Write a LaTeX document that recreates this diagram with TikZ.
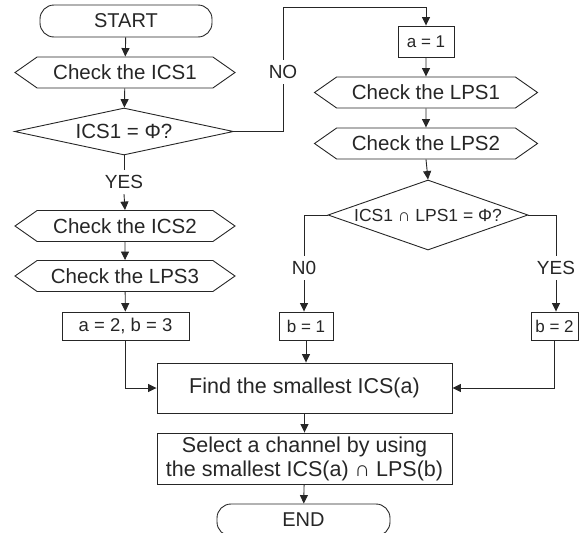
\documentclass[tikz,border=0pt]{standalone}
\usepackage{fontspec}
\setmainfont{Liberation Sans}
\usetikzlibrary{shapes.geometric,shapes.symbols,arrows.meta}
\newcommand\fsz[2]{\fontsize{#1pt}{#2pt}\selectfont}
\begin{document}
\begin{tikzpicture}[x=1pt,y=-1pt, line width=0.9pt, color=black!85,
  arr/.style={-{Triangle[length=8.5pt,width=8pt]}},
  term/.style={draw, rectangle, rounded corners=14pt, minimum width=172, minimum height=32, inner sep=0pt, font=\fsz{20}{23}},
  hexa/.style={draw, shape=signal, signal to=west and east, signal pointer angle=70, minimum width=220, minimum height=31, inner sep=0pt, font=\fsz{20.5}{24}},
  pbox/.style={draw, rectangle, inner sep=0pt},
  dia/.style={draw, diamond, inner sep=0pt},
  lbl/.style={inner sep=5pt, font=\fsz{19}{22}}]
\clip (0,0) rectangle (584,533);
% left column
\node[term] (start) at (126,21) {START};
\node[hexa] (c1) at (125,72.5) {Check the ICS1};
\node[dia, minimum width=219, minimum height=47, label={[font=\fsz{20.5}{24}]center:ICS1 = Φ?}] (d1) at (124,131.5) {};
\node[lbl] (yes1) at (124,182) {YES};
\node[hexa] (c2) at (125,226) {Check the ICS2};
\node[hexa] (c3) at (125,276) {Check the LPS3};
\node[pbox, minimum width=127, minimum height=28, font=\fsz{18.5}{22}] (ab) at (125.5,326) {a = 2, b = 3};
% NO branch
\node[lbl] (no) at (283,72) {NO};
\coordinate (top) at (283,7);
% right column
\node[pbox, minimum width=56, minimum height=31, font=\fsz{17}{20}] (a1) at (426,41.5) {a = 1};
\node[hexa, minimum width=223] (l1) at (426,92.5) {Check the LPS1};
\node[hexa, minimum width=223] (l2) at (426,143.5) {Check the LPS2};
\node[dia, minimum width=200, minimum height=70, label={[font=\fsz{17.5}{21}]center:ICS1 ∩ LPS1 = Φ?}] (d2) at (428,215) {};
\node[lbl] (n0) at (304,268) {N0};
\node[lbl] (yes2) at (556,268) {YES};
\node[pbox, minimum width=54, minimum height=28, font=\fsz{17}{20}] (b1) at (306,326) {b = 1};
\node[pbox, minimum width=47, minimum height=28, font=\fsz{17}{20}] (b2) at (554.5,326) {b = 2};
% bottom
\node[pbox, minimum width=295, minimum height=50, font=\fsz{21.5}{25}] (find) at (304.5,388) {Find the smallest ICS(a)};
\node[pbox, minimum width=295, minimum height=51, align=center, font=\fsz{21.5}{24}] (sel) at (304.5,458.5) {Select a channel by using\\the smallest ICS(a) ∩ LPS(b)};
\node[term, minimum width=173] (end) at (303.5,520) {END};
% connectors
\draw[arr] (start) -- (c1);
\draw[arr] (c1) -- (d1);
\draw (d1.south) -- (yes1.north);
\draw[arr] (yes1.south) -- (c2.north);
\draw[arr] (c2) -- (c3);
\draw[arr] (c3) -- (ab);
\draw (d1.east) -| (no.south);
\draw[arr] (no.north) -- (top) -| (a1.north);
\draw[arr] (a1) -- (l1);
\draw[arr] (l1) -- (l2);
\draw[arr] (l2.south) -- (d2.north);
\draw (d2.west) -| (n0.north);
\draw[arr] (n0.south) -- (n0.south |- b1.north);
\draw (d2.east) -| (yes2.north);
\draw[arr] (yes2.south) -- (yes2.south |- b2.north);
\draw[arr] (ab.south) |- (find.west);
\draw[arr] (b1.south) -- (b1.south |- find.north);
\draw[arr] (b2.south) |- (find.east);
\draw[arr] (find) -- (sel);
\draw[arr] (sel) -- (end);
\end{tikzpicture}
\end{document}
